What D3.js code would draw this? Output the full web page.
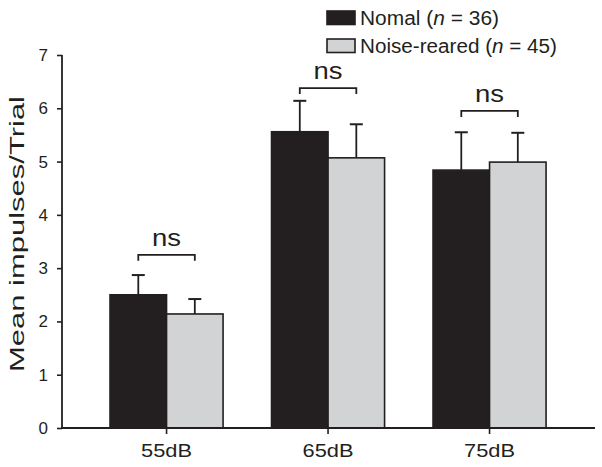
<!DOCTYPE html>
<html>
<head>
<meta charset="utf-8">
<script src="https://cdn.jsdelivr.net/npm/d3@7"></script>
<style>
  html, body { margin: 0; padding: 0; background: #fff; }
  svg { display: block; }
  text { font-family: "Liberation Sans", Arial, sans-serif; fill: #231f20; }
</style>
</head>
<body>
<svg id="chart" width="602" height="467"></svg>
<script>
// ---- data ----
const categories = ["55dB", "65dB", "75dB"];
const seriesNames = ["Nomal", "Noise-reared"];
const seriesN = [36, 45];
const normalMeans = [2.50, 5.56, 4.84];
const normalErr = [0.37, 0.58, 0.71];
const noiseMeans = [2.14, 5.07, 4.99];
const noiseErr = [0.28, 0.63, 0.55];
const sigLabels = ["ns", "ns", "ns"];
const bracketLevels = [3.25, 6.38, 5.95];
const yTicks = [0, 1, 2, 3, 4, 5, 6, 7];
const yLabel = "Mean impulses/Trial";

// ---- layout ----
const ink = "#231f20";
const colors = [ "#231f20", "#d1d3d4" ];
const svg = d3.select("#chart");
const axisX = 62, plotRight = 595, plotTop = 55, plotBottom = 428;

const y = d3.scaleLinear().domain([0, 7]).range([plotBottom, plotTop]);
const x0 = d3.scaleBand().domain(categories)
  .range([85.8, 570.3]).paddingInner(0.3).paddingOuter(0.15);
const x1 = d3.scaleBand().domain(seriesNames).range([0, x0.bandwidth()]).padding(0);

const rows = categories.map((c, i) => ({
  cat: c,
  vals: [
    { s: seriesNames[0], m: normalMeans[i], e: normalErr[i], k: 0 },
    { s: seriesNames[1], m: noiseMeans[i], e: noiseErr[i], k: 1 }
  ]
}));

// y axis
const yAxis = d3.axisLeft(y).tickValues(yTicks).tickFormat(d3.format("d"))
  .tickSize(5).tickSizeOuter(0).tickPadding(9);
const gy = svg.append("g").attr("transform", `translate(${axisX},0)`).call(yAxis);
gy.attr("font-size", null).attr("font-family", null);
gy.select(".domain").remove();
gy.selectAll(".tick line").attr("stroke", ink).attr("stroke-width", 1.6);
gy.selectAll(".tick text").style("font-size", "17px").attr("fill", ink);
svg.append("line").attr("x1", axisX).attr("x2", axisX)
  .attr("y1", y(7)).attr("y2", y(0) + 0.8)
  .attr("stroke", ink).attr("stroke-width", 1.8);

// bars
const groups = svg.append("g").selectAll("g").data(rows).join("g")
  .attr("transform", d => `translate(${x0(d.cat)},0)`);

// error bars (behind bars)
groups.selectAll("g.err").data(d => d.vals).join("g").attr("class", "err")
  .each(function(d) {
    const g = d3.select(this);
    const cx = x1(d.s) + x1.bandwidth() / 2;
    g.append("line").attr("x1", cx).attr("x2", cx)
      .attr("y1", y(d.m)).attr("y2", y(d.m + d.e))
      .attr("stroke", ink).attr("stroke-width", 1.8);
    g.append("line").attr("x1", cx - 6.5).attr("x2", cx + 6.5)
      .attr("y1", y(d.m + d.e)).attr("y2", y(d.m + d.e))
      .attr("stroke", ink).attr("stroke-width", 2);
  });

groups.selectAll("rect").data(d => d.vals).join("rect")
  .attr("x", d => x1(d.s))
  .attr("width", x1.bandwidth())
  .attr("y", d => y(d.m))
  .attr("height", d => y(0) - y(d.m))
  .attr("fill", d => colors[d.k])
  .attr("stroke", ink).attr("stroke-width", 1.6);

// x axis
const xAxis = d3.axisBottom(x0).tickSize(6).tickSizeOuter(0).tickPadding(10);
const gx = svg.append("g").attr("transform", `translate(0,${plotBottom})`).call(xAxis);
gx.attr("font-size", null).attr("font-family", null);
gx.select(".domain").remove();
gx.selectAll(".tick line").attr("stroke", ink).attr("stroke-width", 1.6);
gx.selectAll(".tick text").style("font-size", "19px").attr("fill", ink)
  .attr("textLength", 51).attr("lengthAdjust", "spacingAndGlyphs");
svg.append("line").attr("x1", axisX - 0.9).attr("x2", plotRight)
  .attr("y1", plotBottom).attr("y2", plotBottom)
  .attr("stroke", ink).attr("stroke-width", 1.8);

// significance brackets
rows.forEach((r, i) => {
  const xa = x0(r.cat) + x1(seriesNames[0]) + x1.bandwidth() / 2;
  const xb = x0(r.cat) + x1(seriesNames[1]) + x1.bandwidth() / 2;
  const by = y(bracketLevels[i]);
  svg.append("path")
    .attr("d", `M${xa},${by + 6}V${by}H${xb}V${by + 6}`)
    .attr("fill", "none").attr("stroke", ink).attr("stroke-width", 1.8);
  svg.append("text").attr("x", (xa + xb) / 2).attr("y", by - 9)
    .attr("text-anchor", "middle").style("font-size", "24px")
    .attr("textLength", 29).attr("lengthAdjust", "spacingAndGlyphs")
    .text(sigLabels[i]);
});

// y label
svg.append("text")
  .attr("transform", `translate(24,234) rotate(-90)`)
  .attr("text-anchor", "middle").style("font-size", "20px")
  .attr("textLength", 276).attr("lengthAdjust", "spacingAndGlyphs")
  .text(yLabel);

// legend
const legendY = [11, 39];
const legendW = [139, 197];
seriesNames.forEach((s, i) => {
  svg.append("rect").attr("x", 327).attr("y", legendY[i])
    .attr("width", 28).attr("height", 13.5)
    .attr("fill", colors[i]).attr("stroke", ink).attr("stroke-width", 1.6);
  const t = svg.append("text").attr("x", 360).attr("y", legendY[i] + 14)
    .style("font-size", "20px")
    .attr("textLength", legendW[i]).attr("lengthAdjust", "spacingAndGlyphs");
  t.append("tspan").text(s + " (");
  t.append("tspan").style("font-style", "italic").text("n");
  t.append("tspan").text(" = " + seriesN[i] + ")");
});
</script>
</body>
</html>
